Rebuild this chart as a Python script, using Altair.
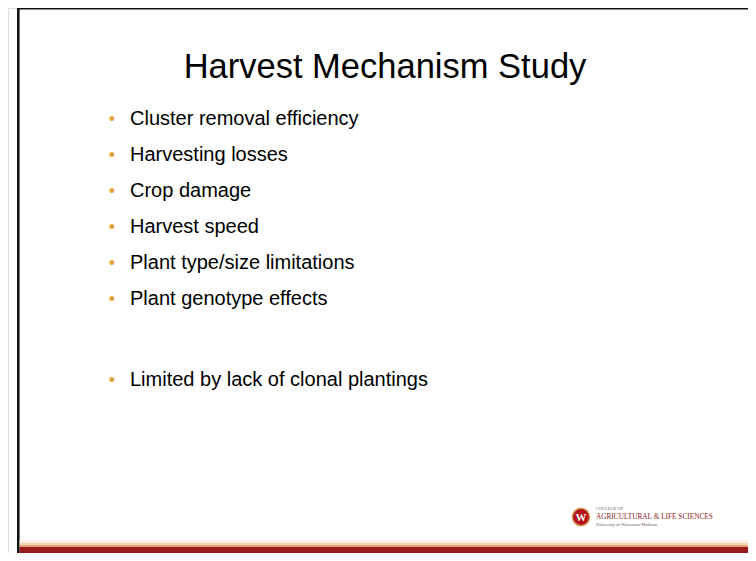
import altair as alt
import pandas as pd

# ---- content ----
title_text = ["Harvest Mechanism Study"]
bullet_items = [
    "Cluster removal efficiency",
    "Harvesting losses",
    "Crop damage",
    "Harvest speed",
    "Plant type/size limitations",
    "Plant genotype effects",
    "Limited by lack of clonal plantings",
]
bullet_slot = [0, 1, 2, 3, 4, 5, 7.25]   # line index on the slide (blank line before last)
logo_lines = ["COLLEGE OF", "AGRICULTURAL & LIFE SCIENCES", "University of Wisconsin-Madison"]
logo_slot = [0, 1, 2]
logo_colors = ["#6e5a5a", "#8c1d24", "#6e5a5a"]

W, H = 740, 545
FONT = "Liberation Sans"

one = pd.DataFrame({"k": [0]})

def band(x1, x2, y1, y2, color):
    return alt.Chart(one).mark_rect(color=color).encode(
        x=alt.value(x1), x2=alt.value(x2), y=alt.value(y1), y2=alt.value(y2))

# slide frame (black top / left edges) and bottom bar
top_line = band(9, W, 0, 1.6, "#111111")
left_line = band(9, 11.6, 0, H, "#111111")
stripe1 = band(11.6, W, 532, 535, "#fdf1e4")
stripe2 = band(11.6, W, 535, 537, "#f4d6b6")
stripe3 = band(11.6, W, 537, 539, "#e1a57a")
red_bar = band(11.6, W, 539, H, "#9a1b1e")

title = alt.Chart(pd.DataFrame({"t": title_text})).mark_text(
    font=FONT, fontSize=34.5, align="center", baseline="alphabetic", color="#000000"
).encode(x=alt.value(377), y=alt.value(70), text="t:N")

bul = pd.DataFrame({"item": bullet_items, "slot": bullet_slot})
yslot = alt.Y("slot:Q", scale=alt.Scale(domain=[0, 10], range=[117, 477]), axis=None)

bullet_text = alt.Chart(bul).mark_text(
    font=FONT, fontSize=20, align="left", baseline="alphabetic", color="#000000"
).encode(x=alt.value(122), y=yslot, text="item:N")

bullet_dots = alt.Chart(bul).mark_text(
    font=FONT, fontSize=18, align="center", baseline="alphabetic", color="#e3a33b"
).encode(x=alt.value(104), y=yslot, text=alt.value("\u2022"))

# logo
crest = alt.Chart(one).mark_point(
    shape="circle", filled=True, size=300, color="#b5121b", opacity=1,
    stroke="#d9a066", strokeWidth=1.5
).encode(x=alt.value(573), y=alt.value(509))
crest_w = alt.Chart(one).mark_text(
    font="Liberation Serif", fontSize=11, fontWeight="bold", color="white",
    align="center", baseline="middle"
).encode(x=alt.value(573), y=alt.value(510), text=alt.value("W"))

logo = pd.DataFrame({"line": logo_lines, "slot": logo_slot,
                     "size": [4.5, 7.3, 4.5], "col": logo_colors})
logo_text = alt.Chart(logo).mark_text(
    font="Liberation Serif", align="left", baseline="middle"
).encode(
    x=alt.value(588),
    y=alt.Y("slot:Q", scale=alt.Scale(domain=[0, 2], range=[501, 517]), axis=None),
    text="line:N",
    size=alt.Size("size:Q", scale=None, legend=None),
    color=alt.Color("col:N", scale=None, legend=None),
)

chart = alt.layer(
    top_line, left_line, stripe1, stripe2, stripe3, red_bar,
    title, bullet_dots, bullet_text, crest, crest_w, logo_text
).resolve_scale(y="independent").properties(
    width=W, height=H, padding=0, autosize=alt.AutoSizeParams(type="none")
).configure_view(stroke=None).configure(background="white")

chart.save("out.html", embed_options={"renderer": "svg", "actions": False})
